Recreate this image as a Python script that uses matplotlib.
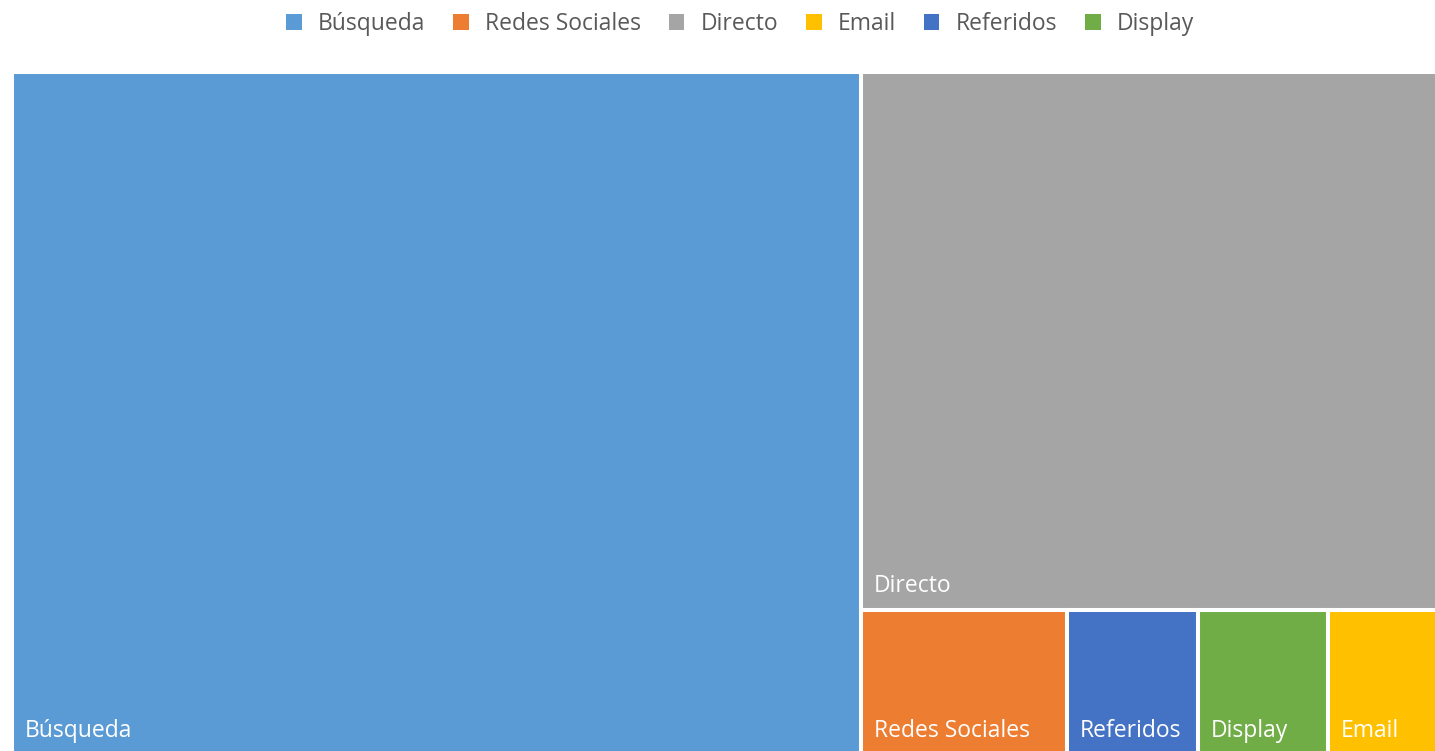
import matplotlib.pyplot as plt
from matplotlib.patches import Rectangle, Patch

# sesiones por canal de adquisición
canales = ["Búsqueda", "Redes Sociales", "Directo", "Email", "Referidos", "Display"]
sesiones = [5960, 306, 3190, 162, 195, 193]
colores = ["#5B9BD5", "#ED7D31", "#A5A5A5", "#FFC000", "#4472C4", "#70AD47"]

plt.rcParams["font.family"] = ["Open Sans", "DejaVu Sans"]


def worst(row, side):
    s = sum(row)
    return max(max(side * side * r / (s * s), s * s / (side * side * r)) for r in row)


def layout_row(row, x, y, dx, dy):
    s = sum(row)
    rects = []
    if dx >= dy:
        # columna a la izquierda
        w = s / dy
        yy = y
        for a in row:
            h = a / w
            rects.append((x, yy, w, h))
            yy += h
        return rects, (x + w, y, dx - w, dy)
    # fila arriba
    h = s / dx
    xx = x
    for a in row:
        w = a / h
        rects.append((xx, y, w, h))
        xx += w
    return rects, (x, y + h, dx, dy - h)


def squarify(areas, x, y, dx, dy):
    rects = []
    i = 0
    while i < len(areas):
        side = min(dx, dy)
        row = [areas[i]]
        i += 1
        while i < len(areas) and worst(row + [areas[i]], side) <= worst(row, side):
            row.append(areas[i])
            i += 1
        r, (x, y, dx, dy) = layout_row(row, x, y, dx, dy)
        rects += r
    return rects


fig = plt.figure(figsize=(14.35, 7.51), dpi=100)
W, H = 1425, 683
ax = fig.add_axes([12 / 1435, -4 / 751, W / 1435, H / 751])
ax.set_xlim(0, W)
ax.set_ylim(H, 0)
ax.axis("off")

orden = sorted(range(len(canales)), key=lambda k: -sesiones[k])
total = sum(sesiones)
areas = [sesiones[k] * W * H / total for k in orden]
rects = squarify(areas, 0, 0, W, H)

for k, (x, y, w, h) in zip(orden, rects):
    ax.add_patch(Rectangle((x, y), w, h, facecolor=colores[k],
                           edgecolor="white", linewidth=2.9))
    ax.annotate(canales[k], xy=(x, y + h), xytext=(13, 18),
                textcoords="offset pixels", color="white", fontsize=16.5,
                ha="left", va="baseline")

handles = [Patch(facecolor=c, edgecolor="none") for c in colores]
fig.legend(handles, canales, loc="center", bbox_to_anchor=(0.5157, 1 - 24 / 751),
           ncol=6, frameon=False, fontsize=16.5, labelcolor="#595959",
           handlelength=0.68, handleheight=0.75, handletextpad=0.7,
           columnspacing=1.22)

fig.savefig("out.png", dpi=100)
